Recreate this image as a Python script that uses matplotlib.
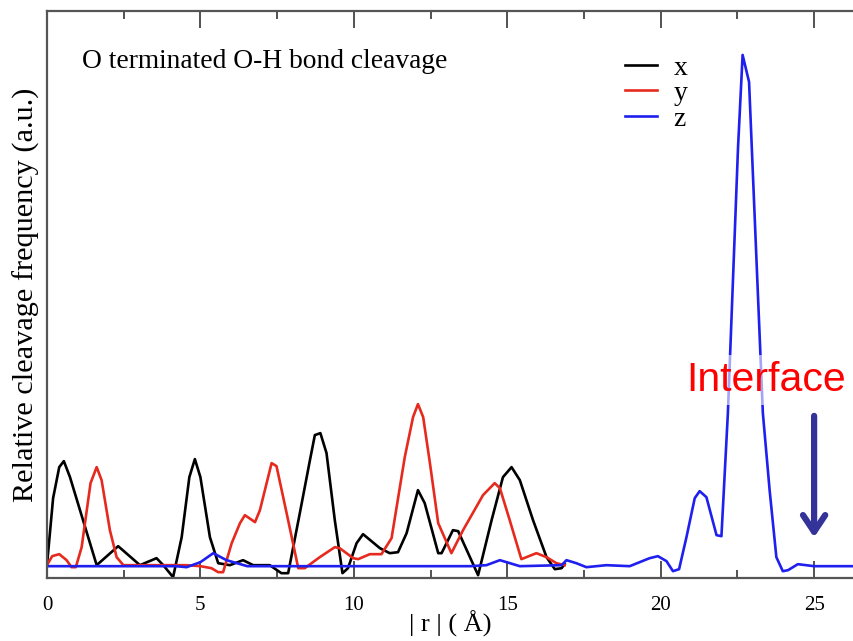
import matplotlib
matplotlib.use("Agg")
import matplotlib.pyplot as plt

# cleavage frequency profiles along |r| for the three directions
r_x = [0, 0.2, 0.4, 0.55, 0.75, 1.62, 2.32, 3.03, 3.57, 3.79, 4.11, 4.39, 4.64,
       4.82, 5.0, 5.31, 5.58, 5.96, 6.39, 6.72, 7.26, 7.64, 7.86, 8.24, 8.57,
       8.73, 8.91, 9.11, 9.38, 9.63, 9.81, 10.09, 10.30, 10.85, 11.17, 11.44,
       11.72, 12.09, 12.31, 12.75, 12.86, 13.23, 13.40, 14.05, 14.49, 14.86,
       15.14, 15.41, 15.84, 16.28, 16.55, 16.77, 16.87]
f_x = [0.01, 0.68, 0.99, 1.05, 0.89, 0.01, 0.20, 0.01, 0.08, 0.01, -0.11, 0.29,
       0.89, 1.07, 0.89, 0.29, 0.03, 0.01, 0.06, 0.01, 0.01, -0.07, -0.07, 0.53,
       1.06, 1.31, 1.33, 1.13, 0.46, -0.07, -0.02, 0.23, 0.32, 0.18, 0.13, 0.14,
       0.33, 0.76, 0.63, 0.13, 0.13, 0.36, 0.35, -0.09, 0.46, 0.89, 0.99, 0.86,
       0.46, 0.09, -0.03, -0.02, 0.02]

r_y = [0, 0.17, 0.4, 0.64, 0.80, 0.94, 1.13, 1.42, 1.62, 1.78, 2.05, 2.27, 2.49,
       4.55, 5.0, 5.36, 5.58, 5.74, 6.02, 6.29, 6.45, 6.78, 6.94, 7.32, 7.48,
       7.81, 8.19, 8.40, 8.89, 9.38, 9.54, 9.98, 10.14, 10.52, 10.90, 11.23,
       11.66, 11.93, 12.09, 12.26, 12.48, 12.75, 13.18, 13.56, 14.21, 14.59,
       14.76, 15.08, 15.46, 15.95, 16.28, 16.60, 16.87]
f_y = [0.01, 0.10, 0.12, 0.06, -0.01, -0.01, 0.19, 0.83, 0.99, 0.86, 0.36, 0.09,
       0.01, 0.01, 0.0, -0.02, -0.06, -0.06, 0.23, 0.43, 0.51, 0.44, 0.56, 1.03,
       1.00, 0.53, -0.02, -0.02, 0.09, 0.19, 0.18, 0.08, 0.07, 0.12, 0.12, 0.28,
       1.09, 1.49, 1.62, 1.49, 1.03, 0.43, 0.13, 0.36, 0.71, 0.83, 0.78, 0.46,
       0.07, 0.13, 0.09, 0.03, 0.01]

r_z = [0, 4.2, 4.55, 5.0, 5.42, 5.85, 6.53, 13.8, 14.32, 14.76, 15.41, 16.77,
       16.93, 17.25, 17.58, 18.23, 18.99, 19.64, 19.91, 20.19, 20.40, 20.60,
       20.84, 21.11, 21.27, 21.49, 21.82, 21.98, 22.19, 22.52, 22.67, 22.88,
       23.33, 23.55, 23.77, 23.98, 24.15, 24.47, 25.0, 26.5]
f_z = [0.0, 0.0, -0.01, 0.04, 0.13, 0.06, 0.0, 0.0, 0.01, 0.06, 0.0, 0.01, 0.06,
       0.03, -0.01, 0.01, 0.0, 0.08, 0.10, 0.05, -0.05, -0.03, 0.29, 0.68, 0.75,
       0.69, 0.31, 0.30, 1.53, 4.18, 5.11, 4.84, 1.53, 0.76, 0.09, -0.05, -0.04,
       0.02, 0.0, 0.0]

series = [("x", r_x, f_x, "black"), ("y", r_y, f_y, "#e62a1e"),
          ("z", r_z, f_z, "#1f1fef")]

serif = ["Liberation Serif", "DejaVu Serif"]

fig = plt.figure(figsize=(8.54, 6.41), dpi=100, facecolor="white")
ax = fig.add_axes([0.055, 0.098, 0.945, 0.885])

for name, r, f, c in series:
    ax.plot(r, f, color=c, lw=1.9, label=name)

ax.set_xlim(0, 26.3)
ax.set_ylim(-0.12, 5.55)
ax.set_xticks([0, 5, 10, 15, 20, 25])
ax.set_xticks([2.5, 7.5, 12.5, 17.5, 22.5], minor=True)
ax.set_yticks([])
ax.tick_params(axis="x", which="both", direction="in", top=True, width=1.3,
               color="#444444", pad=13)
ax.tick_params(axis="x", which="major", length=12)
ax.tick_params(axis="x", which="minor", length=6)
for lab in ax.get_xticklabels():
    lab.set_family(serif)
    lab.set_fontsize(15)
for side in ["left", "bottom", "top"]:
    ax.spines[side].set_linewidth(1.6)
    ax.spines[side].set_color("#555555")
ax.spines["right"].set_visible(False)

ax.set_xlabel("| r | ( Å)", family=serif, fontsize=19, labelpad=-3)
ax.set_ylabel("Relative cleavage frequency (a.u.)", family=serif, fontsize=21.8,
              labelpad=5)

ax.text(0.043, 0.91, "O terminated O-H bond cleavage", transform=ax.transAxes,
        family=serif, fontsize=19.8, va="center", ha="left")

leg = ax.legend(loc="upper left", bbox_to_anchor=(0.685, 0.966), frameon=False,
                handlelength=1.15, handletextpad=0.6, labelspacing=0.0,
                prop={"family": serif, "size": 20})

ax.text(23.45, 1.86, "Interface", color="#ff0000", fontsize=29.5,
        family=["Liberation Sans", "DejaVu Sans"], ha="center", va="center",
        bbox=dict(facecolor="white", edgecolor="none", alpha=0.6, pad=4))
ax.annotate("", xy=(25, 0.26), xytext=(25, 1.53),
            arrowprops=dict(arrowstyle="->,head_length=1.2,head_width=0.8",
                            lw=4.5, color="#333399"))

fig.savefig("out.png", dpi=100, facecolor="white")
